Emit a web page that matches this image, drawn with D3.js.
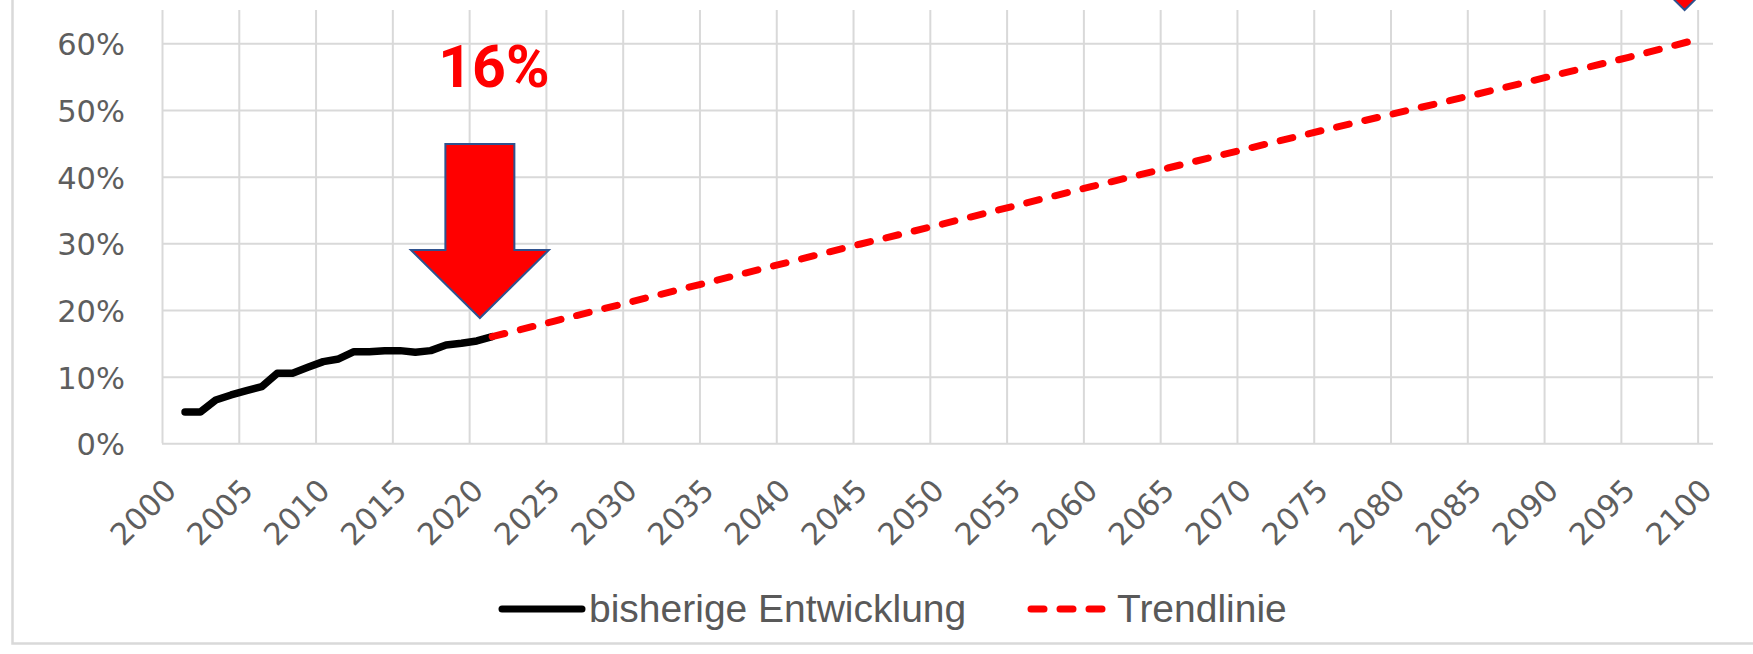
<!DOCTYPE html>
<html>
<head>
<meta charset="utf-8">
<script src="https://cdn.jsdelivr.net/npm/d3@7"></script>
<style>
    html, body { margin: 0; padding: 0; background: #fff; }
    svg { display: block; }
    .tick-label { font-family: "DejaVu Sans", sans-serif; font-size: 30.5px; fill: #5e5e5e; }
    .legend-label { font-family: "Liberation Sans", Arial, sans-serif; font-size: 39px; fill: #595959; }
    .callout { font-family: Roboto, sans-serif; font-weight: 700; font-size: 59px; fill: #ff0000; }
</style>
</head>
<body>
<svg id="chart" width="1753" height="654"></svg>
<script>
// bisherige Entwicklung (Anteil)
var histYears = [2001, 2002, 2003, 2004, 2005, 2006, 2007, 2008, 2009, 2010, 2011,
                 2012, 2013, 2014, 2015, 2016, 2017, 2018, 2019, 2020, 2021];
var histShare = [0.047, 0.047, 0.065, 0.0725, 0.079, 0.085, 0.105, 0.105, 0.114, 0.1225, 0.1265,
                 0.1375, 0.1375, 0.139, 0.139, 0.1365, 0.139, 0.1475, 0.150, 0.1535, 0.160];

// Trendlinie
var trendYears = [2021, 2025, 2030, 2035, 2040, 2045, 2050, 2055, 2060, 2065,
                  2070, 2075, 2080, 2085, 2090, 2095, 2099.5];
var trendShare = [0.160, 0.183, 0.212, 0.241, 0.270, 0.299, 0.327, 0.356, 0.385, 0.413,
                  0.441, 0.469, 0.496, 0.523, 0.551, 0.579, 0.606];

var yTickValues = [0, 0.1, 0.2, 0.3, 0.4, 0.5, 0.6];
var xTickLabels = [2000, 2005, 2010, 2015, 2020, 2025, 2030, 2035, 2040, 2045, 2050,
                   2055, 2060, 2065, 2070, 2075, 2080, 2085, 2090, 2095, 2100];
var seriesNames = ["bisherige Entwicklung", "Trendlinie"];

// annotations: arrow tips in data units + label
var arrowTips = [{year: 2020.2, share: 0.188}, {year: 2098.65, share: 0.65}];
var calloutText = "16%";

var svg = d3.select("#chart");

var plotLeft = 162, plotRight = 1713, plotTop = 10, plotBottom = 443.3;

var x = d3.scaleLinear().domain([1999.5, 2100.5]).range([plotLeft, plotRight]);
var y = d3.scaleLinear().domain([0, 0.65]).range([plotBottom, plotTop]);

//chart area border (left + bottom visible)
svg.append("path")
    .attr("d", "M12.5,0V643.5H1753")
    .attr("fill", "none")
    .attr("stroke", "#d9d9d9")
    .attr("stroke-width", 2.5);

//vertical gridlines (category boundaries)
var gridX = svg.append("g")
    .attr("transform", "translate(0," + plotBottom + ")")
    .call(d3.axisBottom(x)
        .tickValues(xTickLabels.map(function(d) { return d - 0.5; }))
        .tickSize(-(plotBottom - plotTop))
        .tickFormat(""));
gridX.select(".domain").remove();
gridX.selectAll("line").attr("stroke", "#d9d9d9").attr("stroke-width", 2);

//horizontal gridlines
var gridY = svg.append("g")
    .attr("transform", "translate(" + plotLeft + ",0)")
    .call(d3.axisLeft(y)
        .tickValues(yTickValues)
        .tickSize(-(plotRight - plotLeft))
        .tickFormat(""));
gridY.select(".domain").remove();
gridY.selectAll("line").attr("stroke", "#d9d9d9").attr("stroke-width", 2);

//y labels
var yAxis = svg.append("g")
    .attr("transform", "translate(" + plotLeft + ",0)")
    .call(d3.axisLeft(y)
        .tickValues(yTickValues)
        .tickSize(0)
        .tickPadding(37)
        .tickFormat(d3.format(".0%")));
yAxis.select(".domain").remove();
yAxis.attr("font-family", null).attr("font-size", null);
yAxis.selectAll("text")
    .attr("class", "tick-label")
    .attr("fill", null)
    .attr("dy", "0.38em");

//x labels, rotated
var xAxis = svg.append("g")
    .attr("transform", "translate(0," + plotBottom + ")")
    .call(d3.axisBottom(x)
        .tickValues(xTickLabels)
        .tickSize(0)
        .tickFormat(d3.format("d")));
xAxis.select(".domain").remove();
xAxis.attr("font-family", null).attr("font-size", null);
xAxis.selectAll("text")
    .attr("class", "tick-label")
    .attr("fill", null)
    .attr("x", 0)
    .attr("y", 0)
    .attr("dy", 0)
    .attr("transform", "translate(8,49) rotate(-45)")
    .style("text-anchor", "end");

//lines
var line = d3.line()
    .x(function(d) { return x(d[0]); })
    .y(function(d) { return y(d[1]); });

svg.append("path")
    .datum(d3.zip(histYears, histShare))
    .attr("d", line)
    .attr("fill", "none")
    .attr("stroke", "#000")
    .attr("stroke-width", 7.5)
    .attr("stroke-linejoin", "round")
    .attr("stroke-linecap", "round");

svg.append("path")
    .datum(d3.zip(trendYears, trendShare))
    .attr("d", line)
    .attr("fill", "none")
    .attr("stroke", "#ff0000")
    .attr("stroke-width", 7)
    .attr("stroke-dasharray", "13 16")
    .attr("stroke-linecap", "round");

//arrows
function arrowPath(tx, ty) {
    var headW = 69, headH = 68, shaftW = 34.5, len = 174;
    return "M" + tx + "," + ty +
        "L" + (tx - headW) + "," + (ty - headH) +
        "L" + (tx - shaftW) + "," + (ty - headH) +
        "L" + (tx - shaftW) + "," + (ty - len) +
        "L" + (tx + shaftW) + "," + (ty - len) +
        "L" + (tx + shaftW) + "," + (ty - headH) +
        "L" + (tx + headW) + "," + (ty - headH) + "Z";
}

svg.selectAll(".arrow")
    .data(arrowTips)
    .enter()
    .append("path")
    .attr("class", "arrow")
    .attr("d", function(d) { return arrowPath(x(d.year), y(d.share)); })
    .attr("fill", "#ff0000")
    .attr("stroke", "#2f528f")
    .attr("stroke-width", 2)
    .attr("stroke-linejoin", "miter");

svg.append("text")
    .attr("class", "callout")
    .attr("x", x(arrowTips[0].year) + 14)
    .attr("y", 87)
    .attr("text-anchor", "middle")
    .text(calloutText);

//legend
var legend = svg.append("g");

legend.append("line")
    .attr("x1", 502).attr("x2", 582)
    .attr("y1", 609).attr("y2", 609)
    .attr("stroke", "#000")
    .attr("stroke-width", 7)
    .attr("stroke-linecap", "round");

legend.append("text")
    .attr("class", "legend-label")
    .attr("x", 589)
    .attr("y", 621.5)
    .text(seriesNames[0]);

legend.append("line")
    .attr("x1", 1031).attr("x2", 1104)
    .attr("y1", 609).attr("y2", 609)
    .attr("stroke", "#ff0000")
    .attr("stroke-width", 7)
    .attr("stroke-dasharray", "13 16")
    .attr("stroke-linecap", "round");

legend.append("text")
    .attr("class", "legend-label")
    .attr("x", 1117)
    .attr("y", 621.5)
    .text(seriesNames[1]);
</script>
</body>
</html>
